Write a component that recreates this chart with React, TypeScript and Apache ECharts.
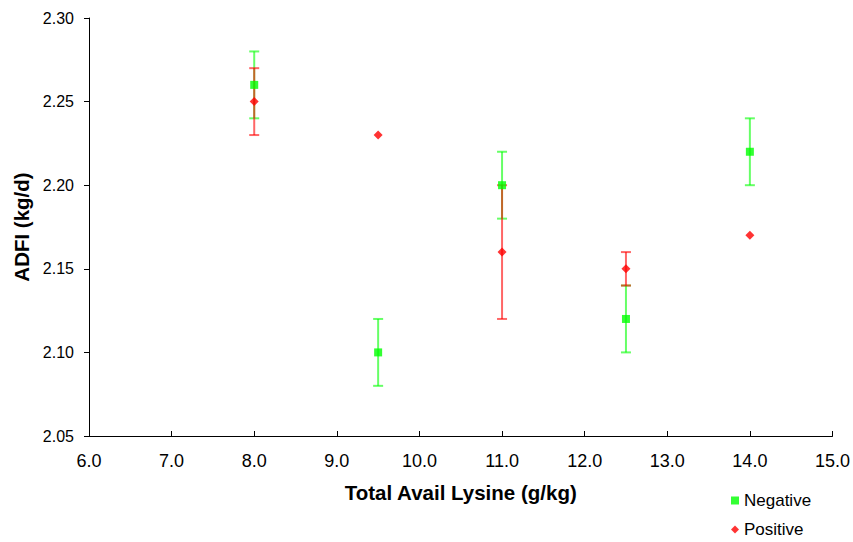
import React, { useEffect, useRef } from "react";
import * as echarts from "echarts";

const xValues = [8.0, 9.5, 11.0, 12.5, 14.0];
const negativeMean = [2.26, 2.1, 2.2, 2.12, 2.22];
const negativeErr = [0.02, 0.02, 0.02, 0.02, 0.02];
const positiveMean = [2.25, 2.23, 2.16, 2.15, 2.17];
const positiveErr = [0.02, 0, 0.04, 0.01, 0];

const GREEN = "#00ff00";
const RED = "#ff0000";

function errorSeries(name: string, means: number[], errs: number[], color: string) {
  const data = xValues.map((x, i) => [x, means[i] - errs[i], means[i] + errs[i]]);
  return {
    type: "custom",
    name: name + "-err",
    silent: true,
    z: 1,
    data,
    renderItem: (params: any, api: any) => {
      const x = api.value(0);
      const lo = api.value(1);
      const hi = api.value(2);
      if (hi - lo < 1e-9) return { type: "group", children: [] };
      const p1 = api.coord([x, lo]);
      const p2 = api.coord([x, hi]);
      const half = 5;
      const style = { stroke: color, lineWidth: 2, opacity: 0.6 };
      return {
        type: "group",
        children: [
          { type: "line", shape: { x1: p1[0], y1: p1[1], x2: p2[0], y2: p2[1] }, style },
          { type: "line", shape: { x1: p1[0] - half, y1: p1[1], x2: p1[0] + half, y2: p1[1] }, style },
          { type: "line", shape: { x1: p2[0] - half, y1: p2[1], x2: p2[0] + half, y2: p2[1] }, style },
        ],
      };
    },
  };
}

export default function App() {
  const ref = useRef<HTMLDivElement>(null);
  useEffect(() => {
    if (!ref.current) return;
    const chart = echarts.init(ref.current, null, { renderer: "svg" });
    const font = "Arial, 'Liberation Sans', sans-serif";
    const legendBase = {
      orient: "vertical",
      left: 731,
      padding: 0,
      itemWidth: 8,
      itemHeight: 8,
      textStyle: { fontSize: 17, color: "#000", fontFamily: font },
    };
    chart.setOption({
      animation: false,
      backgroundColor: "#ffffff",
      textStyle: { fontFamily: font },
      grid: { left: 89, right: 19, top: 18, bottom: 106, containLabel: false },
      legend: [
        { ...legendBase, top: 492, data: [{ name: "Negative", icon: "rect" }] },
        { ...legendBase, top: 521, data: [{ name: "Positive", icon: "diamond" }] },
      ],
      xAxis: {
        type: "value",
        min: 6,
        max: 15,
        interval: 1,
        name: "Total Avail Lysine (g/kg)",
        nameLocation: "middle",
        nameGap: 46,
        nameTextStyle: { fontSize: 20.5, fontWeight: "bold", color: "#000", fontFamily: font },
        axisLine: { show: true, lineStyle: { color: "#000", width: 1 } },
        axisTick: { show: true, inside: true, length: 5, lineStyle: { color: "#000" } },
        axisLabel: {
          fontSize: 18,
          color: "#000",
          margin: 16,
          fontFamily: font,
          formatter: (v: number) => v.toFixed(1),
        },
        splitLine: { show: false },
      },
      yAxis: {
        type: "value",
        min: 2.05,
        max: 2.3,
        interval: 0.05,
        name: "ADFI (kg/d)",
        nameLocation: "middle",
        nameGap: 57,
        nameTextStyle: { fontSize: 20.5, fontWeight: "bold", color: "#000", fontFamily: font },
        axisLine: { show: true, lineStyle: { color: "#000", width: 1 } },
        axisTick: { show: true, inside: false, length: 5, lineStyle: { color: "#000" } },
        axisLabel: {
          fontSize: 16,
          color: "#000",
          margin: 15,
          fontFamily: font,
          formatter: (v: number) => v.toFixed(2),
        },
        splitLine: { show: false },
      },
      series: [
        errorSeries("Negative", negativeMean, negativeErr, GREEN),
        errorSeries("Positive", positiveMean, positiveErr, RED),
        {
          type: "scatter",
          name: "Negative",
          symbol: "rect",
          symbolSize: 8,
          z: 3,
          itemStyle: { color: GREEN },
          data: xValues.map((x, i) => [x, negativeMean[i]]),
        },
        {
          type: "scatter",
          name: "Positive",
          symbol: "diamond",
          symbolSize: 9,
          z: 4,
          itemStyle: { color: RED },
          data: xValues.map((x, i) => [x, positiveMean[i]]),
        },
      ],
    });
    return () => chart.dispose();
  }, []);
  return <div ref={ref} style={{ width: 853, height: 542, position: "absolute", left: 0, top: 0 }} />;
}
